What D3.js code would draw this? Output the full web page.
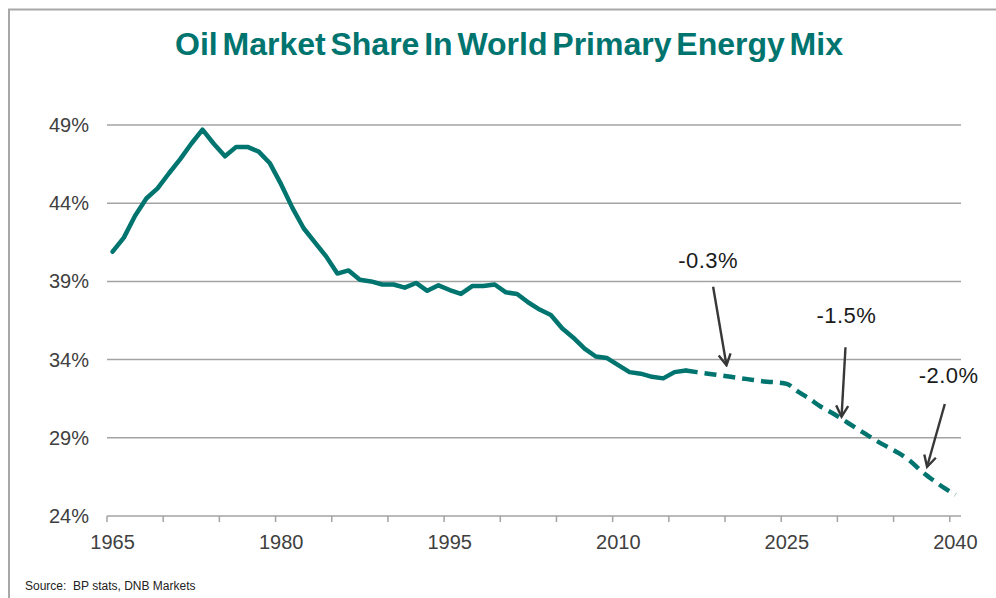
<!DOCTYPE html>
<html>
<head>
<meta charset="utf-8">
<script src="https://cdn.jsdelivr.net/npm/d3@7"></script>
<style>
  body { margin: 0; background: #fff; }
  text { font-family: "Liberation Sans", Arial, sans-serif; }
</style>
</head>
<body>
<svg width="996" height="598"></svg>
<script>
// historic share 1965-2016, projection 2016-2040 (in %)
var histYears = d3.range(1965, 2017);
var histShare = [40.9, 41.8, 43.2, 44.3, 44.95, 45.9, 46.8, 47.8, 48.7, 47.8,
  47.0, 47.6, 47.6, 47.3, 46.55, 45.2, 43.7, 42.4, 41.5, 40.6,
  39.5, 39.7, 39.1, 39.0, 38.8, 38.8, 38.6, 38.9, 38.4, 38.75,
  38.45, 38.2, 38.7, 38.7, 38.8, 38.3, 38.2, 37.65, 37.2, 36.85,
  36.0, 35.4, 34.7, 34.2, 34.1, 33.65, 33.2, 33.1, 32.9, 32.8,
  33.2, 33.3];
var projYears = d3.range(2016, 2041);
var projShare = [33.3, 33.2, 33.1, 33.0, 32.9, 32.8, 32.7, 32.6, 32.55, 32.45,
  31.95, 31.5, 31.0, 30.6, 30.15, 29.7, 29.25, 28.8, 28.4, 28.0,
  27.5, 26.85, 26.3, 25.8, 25.35];

var yTicks = [24, 29, 34, 39, 44, 49];
var xLabels = [1965, 1980, 1995, 2010, 2025, 2040];

// growth rate callouts: label spot and arrow start/end, in (year, share)
var noteText = ["-0.3%", "-1.5%", "-2.0%"];
var noteLabel = [[2018.0, 39.86], [2030.3, 36.32], [2039.4, 32.48]];
var noteFrom = [[2018.44, 38.66], [2030.22, 34.79], [2039.06, 31.16]];
var noteTo = [[2019.63, 33.64], [2029.87, 30.35], [2037.48, 27.15]];

var teal = "#00746e", ink = "#404040", grid = "#a3a3a3";

var svg = d3.select("svg");

// outer frame
svg.append("path")
  .attr("d", "M9,598V9.5H996")
  .attr("fill", "none").attr("stroke", "#a8a8a8").attr("stroke-width", 2);

var x = d3.scaleLinear().domain([1964.5, 2040.5]).range([107, 961]);
var y = d3.scaleLinear().domain([24, 49]).range([516, 125]);

svg.append("text")
  .attr("x", 509).attr("y", 55)
  .attr("text-anchor", "middle")
  .attr("font-size", 31).attr("font-weight", "bold")
  .attr("fill", teal)
  .attr("textLength", 668).attr("lengthAdjust", "spacingAndGlyphs")
  .attr("word-spacing", -4)
  .text("Oil Market Share In World Primary Energy Mix");

// gridlines + y labels
svg.selectAll(".grid").data(yTicks).enter().append("line")
  .attr("x1", x(1964.5)).attr("x2", x(2040.5))
  .attr("y1", function(d) { return y(d); })
  .attr("y2", function(d) { return y(d); })
  .attr("stroke", grid).attr("stroke-width", 1.5);

svg.selectAll(".ylab").data(yTicks).enter().append("text")
  .attr("x", 89).attr("y", function(d) { return y(d) + 7; })
  .attr("text-anchor", "end").attr("font-size", 20).attr("fill", ink)
  .text(function(d) { return d + "%"; });

// x tick marks between categories, every 5 years
svg.selectAll(".xtick").data(d3.range(1964.5, 2040, 5)).enter().append("line")
  .attr("x1", function(d) { return x(d); }).attr("x2", function(d) { return x(d); })
  .attr("y1", y(24)).attr("y2", y(24) + 6)
  .attr("stroke", grid).attr("stroke-width", 1.5);

svg.selectAll(".xlab").data(xLabels).enter().append("text")
  .attr("x", function(d) { return x(d); }).attr("y", 549)
  .attr("text-anchor", "middle").attr("font-size", 20).attr("fill", ink)
  .text(String);

var line = d3.line()
  .x(function(d) { return x(d[0]); })
  .y(function(d) { return y(d[1]); });

svg.append("path")
  .datum(d3.zip(histYears, histShare))
  .attr("d", line)
  .attr("fill", "none").attr("stroke", teal)
  .attr("stroke-width", 4.5).attr("stroke-linejoin", "round").attr("stroke-linecap", "round");

svg.append("path")
  .datum(d3.zip(projYears, projShare))
  .attr("d", line.curve(d3.curveMonotoneX))
  .attr("fill", "none").attr("stroke", teal)
  .attr("stroke-width", 4.5).attr("stroke-dasharray", "12,7");

// arrows
svg.append("defs").append("marker")
  .attr("id", "head")
  .attr("viewBox", "-12 -7 14 14")
  .attr("refX", 0).attr("refY", 0)
  .attr("markerWidth", 14).attr("markerHeight", 14)
  .attr("markerUnits", "userSpaceOnUse")
  .attr("orient", "auto")
  .append("path")
  .attr("d", "M-11,-6L0,0L-11,6")
  .attr("fill", "none").attr("stroke", "#383838").attr("stroke-width", 2.4);

svg.selectAll(".arrow").data(d3.range(noteText.length)).enter().append("line")
  .attr("x1", function(i) { return x(noteFrom[i][0]); })
  .attr("y1", function(i) { return y(noteFrom[i][1]); })
  .attr("x2", function(i) { return x(noteTo[i][0]); })
  .attr("y2", function(i) { return y(noteTo[i][1]); })
  .attr("stroke", "#383838").attr("stroke-width", 2.4)
  .attr("marker-end", "url(#head)");

svg.selectAll(".note").data(d3.range(noteText.length)).enter().append("text")
  .attr("x", function(i) { return x(noteLabel[i][0]); })
  .attr("y", function(i) { return y(noteLabel[i][1]); })
  .attr("text-anchor", "middle").attr("font-size", 22).attr("fill", "#1a1a1a")
  .attr("letter-spacing", 0.5)
  .text(function(i) { return noteText[i]; });

svg.append("text")
  .attr("x", 25).attr("y", 590)
  .attr("font-size", 12).attr("fill", "#222")
  .attr("xml:space", "preserve")
  .text("Source:  BP stats, DNB Markets");
</script>
</body>
</html>
